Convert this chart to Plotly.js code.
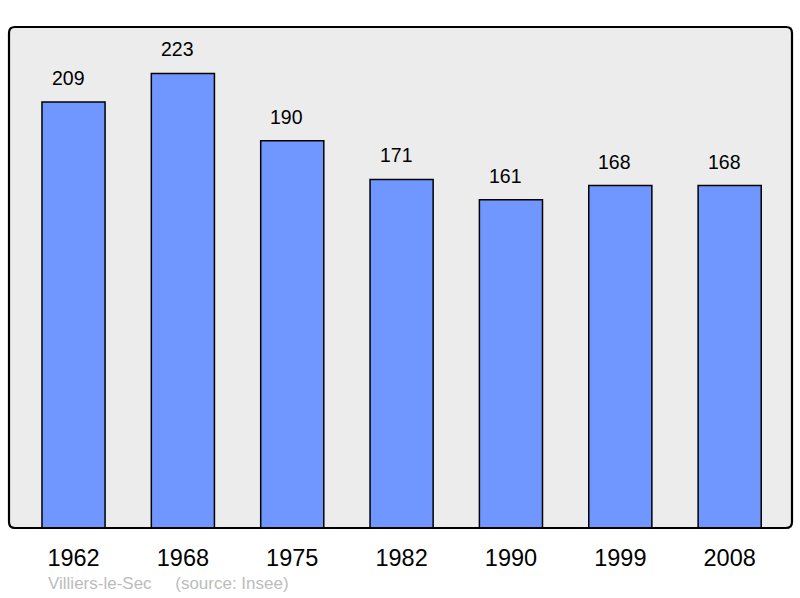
<!DOCTYPE html>
<html>
<head>
<meta charset="utf-8">
<script src="https://cdn.plot.ly/plotly-3.0.1.min.js"></script>
<style>html,body{margin:0;padding:0;background:#fff;}#chart{width:800px;height:598px;}</style>
</head>
<body>
<div id="chart"></div>
<script>
const years = ["1962", "1968", "1975", "1982", "1990", "1999", "2008"];
const population = [209, 223, 190, 171, 161, 168, 168];
const sourceText = "Villiers-le-Sec&#160;&#160;&#160;&#160;&#160;(source: Insee)";

const trace = {
  type: "bar",
  x: years,
  y: population,
  width: 0.577,
  marker: { color: "#7096ff", line: { color: "#000", width: 1.5 } },
  hoverinfo: "skip"
};

const annotations = years.map((yr, i) => ({
  x: i, y: population[i], xref: "x", yref: "y",
  text: String(population[i]), showarrow: false,
  yanchor: "middle", yshift: 24, xshift: -5.5,
  font: { family: "Liberation Sans, Arial, sans-serif", size: 19.5, color: "#000" }
}));
annotations.push({
  xref: "paper", yref: "paper", x: 0.047, y: -0.11,
  xanchor: "left", yanchor: "middle", showarrow: false,
  text: sourceText,
  font: { family: "Liberation Sans, Arial, sans-serif", size: 17, color: "#bcbcbc" }
});

const rx = 6 / 783, ry = 6 / 501;
const boxPath = `M ${rx} 1 L ${1 - rx} 1 Q 1 1 1 ${1 - ry} L 1 ${ry} Q 1 0 ${1 - rx} 0 ` +
  `L ${rx} 0 Q 0 0 0 ${ry} L 0 ${1 - ry} Q 0 1 ${rx} 1 Z`;

const layout = {
  width: 800, height: 598,
  margin: { l: 9, r: 8, t: 27, b: 70, pad: 0 },
  paper_bgcolor: "#ffffff",
  plot_bgcolor: "#ececec",
  showlegend: false,
  xaxis: {
    type: "category",
    range: [-0.59, 6.57],
    showgrid: false, zeroline: false, showline: false,
    ticks: "outside", ticklen: 9, tickcolor: "rgba(0,0,0,0)",
    tickfont: { family: "Liberation Sans, Arial, sans-serif", size: 23.5, color: "#000" },
    fixedrange: true
  },
  yaxis: {
    range: [0, 245.8],
    showgrid: false, zeroline: false, showline: false, showticklabels: false, ticks: "",
    fixedrange: true
  },
  shapes: [{
    type: "path", xref: "paper", yref: "paper", path: boxPath,
    line: { color: "#000", width: 2.2 }, fillcolor: "rgba(0,0,0,0)", layer: "above"
  }],
  annotations: annotations
};

Plotly.newPlot("chart", [trace], layout, { displayModeBar: false, staticPlot: true });
</script>
</body>
</html>
